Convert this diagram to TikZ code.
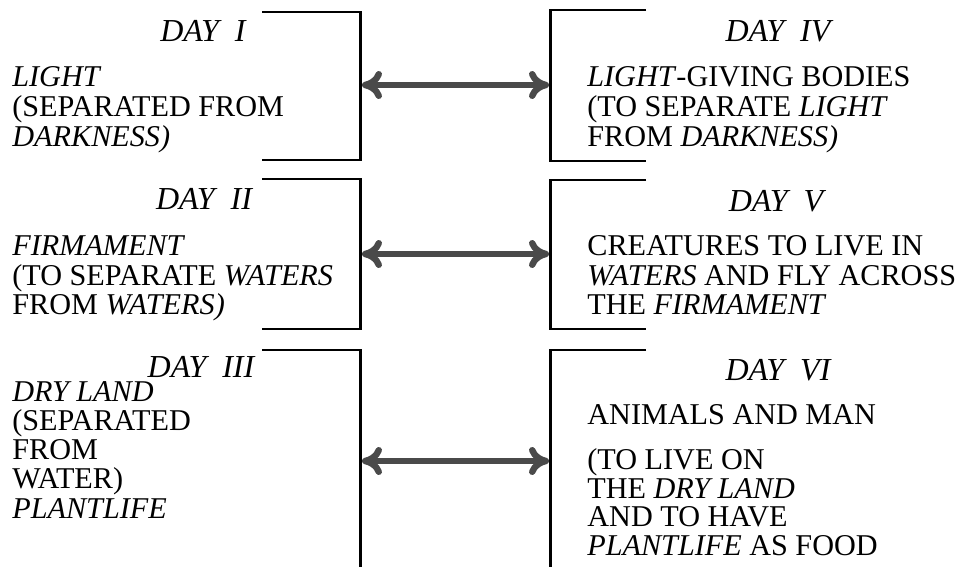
\documentclass[tikz,border=0pt]{standalone}
\usepackage{fontspec}
\setmainfont{Liberation Serif}
\usetikzlibrary{arrows.meta}
\definecolor{arrowgray}{HTML}{4A4A4A}
\begin{document}
\begin{tikzpicture}[x=0.5pt,y=-0.5pt,
  bracket/.style={line width=1.3pt, black, line join=miter},
  dblarrow/.style={line width=3.2pt, draw=arrowgray,
    {Computer Modern Rightarrow[length=10pt,width=14pt]}-{Computer Modern Rightarrow[length=10pt,width=14pt]}},
  body/.style={font=\fontsize{15.1pt}{15pt}\selectfont, align=left, anchor=base west, inner sep=0pt},
  bodyb/.style={body, font=\fontsize{15.1pt}{14.5pt}\selectfont},
  bodyc/.style={body, font=\fontsize{15.1pt}{14.2pt}\selectfont},
  daylabel/.style={font=\fontsize{16pt}{16pt}\selectfont\itshape, anchor=base, inner sep=0pt}]
\useasboundingbox (0,0) rectangle (966,567);
% brackets left
\draw[bracket] (262,12) -- (360.5,12) -- (360.5,160) -- (262,160);
\draw[bracket] (262,179) -- (360.5,179) -- (360.5,329) -- (262,329);
\draw[bracket] (262,350) -- (360.5,350) -- (360.5,570);
% brackets right
\draw[bracket] (646,10) -- (550.5,10) -- (550.5,161) -- (646,161);
\draw[bracket] (646,180) -- (550.5,180) -- (550.5,329) -- (646,329);
\draw[bracket] (646,350) -- (550.5,350) -- (550.5,570);
% arrow end points
\coordinate (L1) at (362,85);  \coordinate (R1) at (549,85);
\coordinate (L2) at (362,254); \coordinate (R2) at (549,254);
\coordinate (L3) at (362,461); \coordinate (R3) at (549,461);
\draw[dblarrow] (L1) -- (R1);
\draw[dblarrow] (L2) -- (R2);
\draw[dblarrow] (L3) -- (R3);
% day labels
\node[daylabel] (d1) at (203,42) {DAY\ \ I};
\node[daylabel] (d2) at (204,210) {DAY\ \ II};
\node[daylabel] (d3) at (201,378) {DAY\ \ III};
\node[daylabel] (d4) at (778,42) {DAY\ \ IV};
\node[daylabel] (d5) at (776,212) {DAY\ \ V};
\node[daylabel] (d6) at (778,380) {DAY\ \ VI};
% left texts (anchored at the baseline of the last line)
\node[body] (t1) at (12,147) {\textit{LIGHT}\\(SEPARATED FROM\\\textit{DARKNESS)}};
\node[body] (t2) at (12,315) {\textit{FIRMAMENT}\\(TO SEPARATE \textit{WATERS}\\FROM \textit{WATERS)}};
\node[bodyb] (t3) at (12,488) {\textit{DRY LAND}\\(SEPARATED\\FROM\\WATER)};
\node[body] (t4) at (12,518) {\textit{PLANTLIFE}};
% right texts
\node[body] (r1) at (587,147) {\textit{LIGHT}-GIVING BODIES\\(TO SEPARATE \textit{LIGHT}\\FROM \textit{DARKNESS)}};
\node[body] (r2) at (587,315) {CREATURES TO LIVE IN\\\textit{WATERS} AND FLY ACROSS\\THE \textit{FIRMAMENT}};
\node[body] (r3) at (587,425) {ANIMALS AND MAN};
\node[bodyc] (r4) at (587,555) {(TO LIVE ON\\THE \textit{DRY LAND}\\AND TO HAVE\\\textit{PLANTLIFE} AS FOOD};
\end{tikzpicture}
\end{document}
